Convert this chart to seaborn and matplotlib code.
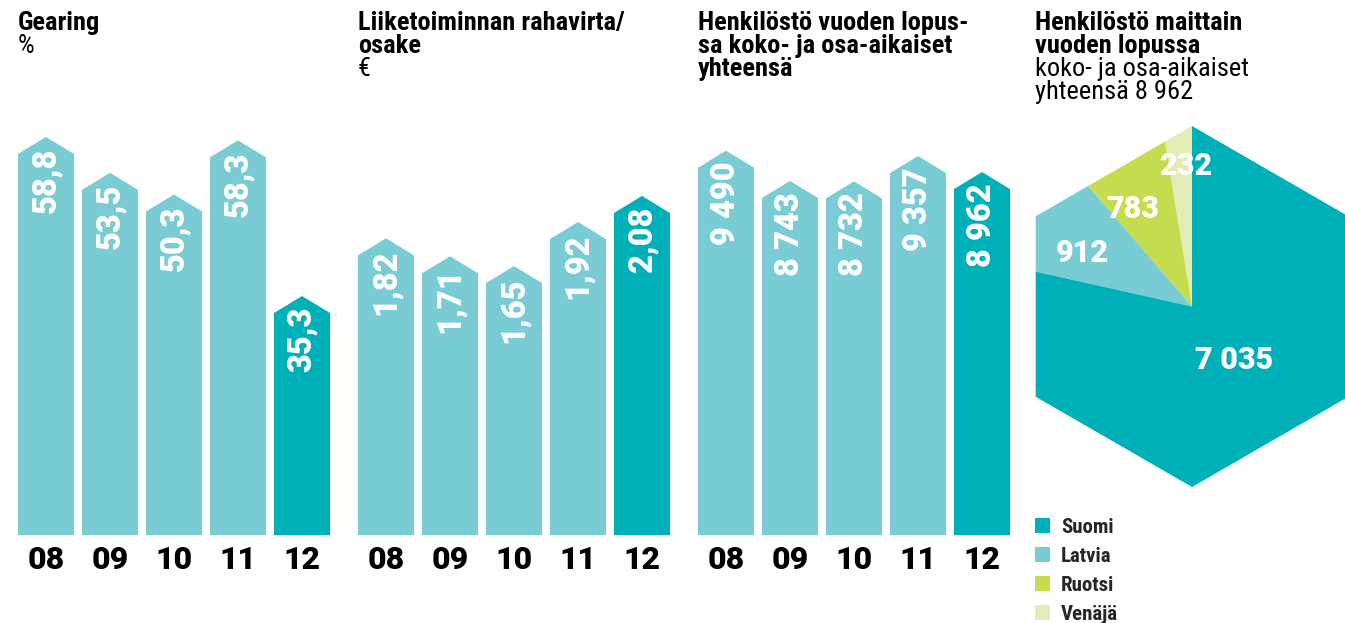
import numpy as np
import pandas as pd
import seaborn as sns
import matplotlib.pyplot as plt
from matplotlib.patches import Polygon, Patch
from matplotlib import font_manager

years = ["08", "09", "10", "11", "12"]
gearing = [58.8, 53.5, 50.3, 58.3, 35.3]
cash_flow = [1.82, 1.71, 1.65, 1.92, 2.08]
staff = [9490, 8743, 8732, 9357, 8962]
countries = ["Suomi", "Latvia", "Ruotsi", "Venäjä"]
staff_by_country = [7035, 912, 783, 232]

LIGHT = "#7ACCD4"
DARK = "#00B0B9"
country_colors = [DARK, LIGHT, "#C5DC4F", "#E2EDB5"]

names = {f.name for f in font_manager.fontManager.ttflist}


def pick(*cands):
    return next((c for c in cands if c in names), "DejaVu Sans")


COND = pick("Roboto Condensed", "Liberation Sans Narrow", "Roboto")
NUM = pick("Roboto", "DejaVu Sans")

sns.set_theme(style="white")
plt.rcParams["font.family"] = [NUM, "DejaVu Sans"]

W, H = 1345, 623
fig = plt.figure(figsize=(W / 100, H / 100), dpi=100)


def px_axes(left, top, width, height):
    return fig.add_axes([left / W, 1 - (top + height) / H, width / W, height / H])


def fmt1(v):
    return f"{v:.1f}".replace(".", ",")


def fmt2(v):
    return f"{v:.2f}".replace(".", ",")


def fmt_int(v):
    return f"{v:,}".replace(",", " ")


def draw_panel(values, left, px_per_unit, fmt):
    ax = px_axes(left, 100, 320, 435)
    df = pd.DataFrame({"year": years, "value": values})
    sns.barplot(data=df, x="year", y="value", hue="year",
                palette=[LIGHT] * 4 + [DARK], width=0.875, saturation=1,
                legend=False, ax=ax)
    ax.set_ylim(0, 435 / px_per_unit)
    ax.set_xlim(-0.5, 4.5)
    tip = 17 / px_per_unit
    # turn the rectangles into "house" shapes
    for bar, v in zip(list(ax.patches), values):
        x0, w, h = bar.get_x(), bar.get_width(), bar.get_height()
        pts = [(x0, 0), (x0, h - tip), (x0 + w / 2, h), (x0 + w, h - tip), (x0 + w, 0)]
        ax.add_patch(Polygon(pts, closed=True, facecolor=bar.get_facecolor(),
                             edgecolor="none"))
        bar.remove()
        ax.annotate(fmt(v), xy=(x0 + w / 2, h), xytext=(0, -11),
                    textcoords="offset pixels", rotation=90, ha="center",
                    va="top", color="white", fontsize=23.5, fontweight="black")
    ax.set_xlabel("")
    ax.set_ylabel("")
    ax.set_yticks([])
    ax.tick_params(axis="x", length=0, pad=7.5, labelsize=23, colors="black")
    for lbl in ax.get_xticklabels():
        lbl.set_fontweight("black")
    sns.despine(ax=ax, left=True, bottom=True)


draw_panel(gearing, 14, 6.77, fmt1)
draw_panel(cash_flow, 354, 163, fmt2)
draw_panel(staff, 694, 0.0405, fmt_int)

# titles
titles = [
    (18, ["Gearing"], ["%"]),
    (358, ["Liiketoiminnan rahavirta/", "osake"], ["€"]),
    (698, ["Henkilöstö vuoden lopus-", "sa koko- ja osa-aikaiset", "yhteensä"], []),
    (1035, ["Henkilöstö maittain", "vuoden lopussa"], ["koko- ja osa-aikaiset", "yhteensä 8 962"]),
]
for x, bold_lines, plain_lines in titles:
    lines = [(s, "black") for s in bold_lines] + [(s, "normal") for s in plain_lines]
    for i, (s, wt) in enumerate(lines):
        fig.text(x / W, 1 - (30 + 23 * i) / H, s, va="baseline", ha="left",
                 fontsize=19, fontweight=wt, family=[COND, "DejaVu Sans"],
                 color="black")

# hexagon pie
pax = px_axes(992, 106.5, 400, 400)
vals = staff_by_country[::-1]
cols = country_colors[::-1]
wedges, _ = pax.pie(vals, colors=cols, startangle=90, counterclock=True,
                    radius=260, wedgeprops=dict(linewidth=0))
ang = np.deg2rad(90 + 60 * np.arange(6))
hexagon = Polygon(np.column_stack([180.5 * np.cos(ang), 180.5 * np.sin(ang)]),
                  closed=True, transform=pax.transData)
for wdg in wedges:
    wdg.set_clip_on(True)
    wdg.set_clip_path(hexagon)
# label radius and small angle nudge per slice
label_r = [141, 114, 122, 68]
label_turn = [-2, 6, 5, 0]
for wdg, v, r, t in zip(wedges, vals, label_r, label_turn):
    a = np.deg2rad((wdg.theta1 + wdg.theta2) / 2 + t)
    pax.text(r * np.cos(a), r * np.sin(a), fmt_int(v), ha="center", va="center",
             color="white", fontsize=22, fontweight="black")
pax.set_xlim(-200, 200)
pax.set_ylim(-200, 200)
pax.axis("off")

fig.legend(handles=[Patch(facecolor=c, edgecolor="none") for c in country_colors],
           labels=countries, loc="upper left",
           bbox_to_anchor=(1035 / W, 1 - 518 / H), frameon=False,
           prop={"family": COND, "weight": "black", "size": 15},
           handlelength=0.72, handleheight=0.72, handletextpad=0.53,
           labelspacing=0.48, borderaxespad=0, borderpad=0)

fig.savefig("out.png", dpi=100)
